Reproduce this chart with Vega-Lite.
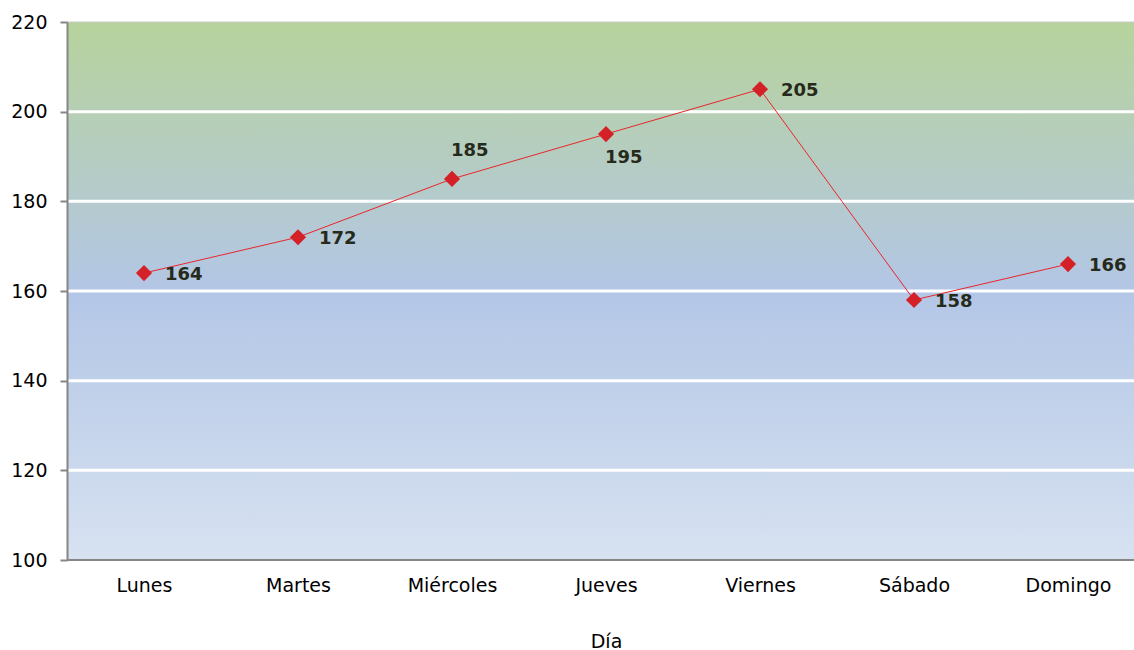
{
  "$schema": "https://vega.github.io/schema/vega-lite/v6.json",
  "autosize": {"type": "none"},
  "padding": {"left": 67, "top": 22, "right": 0, "bottom": 90},
  "width": 1067,
  "height": 538,
  "background": "white",
  "config": {
    "view": {"stroke": null},
    "font": "DejaVu Sans",
    "axis": {"labelFont": "DejaVu Sans", "titleFont": "DejaVu Sans", "labelColor": "#000000", "titleColor": "#000000", "labelFontSize": 19, "titleFontSize": 19, "titleFontWeight": "normal"}
  },
  "data": {
    "values": [
      {"dia": "Lunes", "valor": 164},
      {"dia": "Martes", "valor": 172},
      {"dia": "Miércoles", "valor": 185},
      {"dia": "Jueves", "valor": 195},
      {"dia": "Viernes", "valor": 205},
      {"dia": "Sábado", "valor": 158},
      {"dia": "Domingo", "valor": 166}
    ]
  },
  "encoding": {
    "x": {
      "field": "dia", "type": "ordinal", "sort": null,
      "scale": {"type": "point", "padding": 0, "range": [77, 1001]},
      "title": "Día",
      "axis": {"labelAngle": 0, "ticks": false, "domain": false, "labelPadding": 16, "titlePadding": 37, "grid": false, "zindex": 1}
    },
    "y": {
      "field": "valor", "type": "quantitative",
      "scale": {"domain": [100, 220], "nice": false, "zero": false},
      "title": null,
      "axis": {"values": [100, 120, 140, 160, 180, 200, 220], "tickColor": "#868686", "tickWidth": 2, "tickSize": 7, "domainColor": "#868686", "domainWidth": 2, "grid": false, "labelPadding": 13, "zindex": 1}
    }
  },
  "layer": [
    {
      "mark": {
        "type": "rect",
        "color": {
          "gradient": "linear", "x1": 0, "y1": 0, "x2": 0, "y2": 1,
          "stops": [
            {"offset": 0, "color": "#b7d39c"},
            {"offset": 0.5, "color": "#b3c6e6"},
            {"offset": 1, "color": "#d7e2f1"}
          ]
        }
      },
      "encoding": {
        "x": null,
        "y": {"datum": 100, "type": "quantitative"},
        "y2": {"datum": 220}
      }
    },
    {
      "mark": {"type": "rule", "color": "#ffffff", "strokeWidth": 3},
      "data": {"values": [{"g": 120}, {"g": 140}, {"g": 160}, {"g": 180}, {"g": 200}]},
      "encoding": {"x": null, "y": {"field": "g", "type": "quantitative"}}
    },
    {
      "mark": {"type": "rule", "color": "#c8c8c8", "strokeWidth": 1},
      "data": {"values": [{"g": 220}]},
      "encoding": {"x": null, "y": {"field": "g", "type": "quantitative"}}
    },
    {
      "mark": {"type": "rule", "color": "#868686", "strokeWidth": 2},
      "data": {"values": [{"g": 100}]},
      "encoding": {"x": null, "y": {"field": "g", "type": "quantitative"}}
    },
    {
      "mark": {"type": "line", "color": "#e8262a", "strokeWidth": 1}
    },
    {
      "mark": {"type": "point", "shape": "diamond", "filled": true, "color": "#d42027", "size": 260, "opacity": 1}
    },
    {
      "transform": [{"filter": "datum.dia !== 'Miércoles' && datum.dia !== 'Jueves'"}],
      "mark": {"type": "text", "align": "left", "baseline": "middle", "dx": 21, "dy": 2, "fontSize": 18, "fontWeight": "bold", "color": "#262a1a"},
      "encoding": {"text": {"field": "valor"}}
    },
    {
      "transform": [{"filter": "datum.dia === 'Miércoles'"}],
      "mark": {"type": "text", "align": "left", "baseline": "middle", "dx": -1, "dy": -28, "fontSize": 18, "fontWeight": "bold", "color": "#262a1a"},
      "encoding": {"text": {"field": "valor"}}
    },
    {
      "transform": [{"filter": "datum.dia === 'Jueves'"}],
      "mark": {"type": "text", "align": "left", "baseline": "middle", "dx": -1, "dy": 24, "fontSize": 18, "fontWeight": "bold", "color": "#262a1a"},
      "encoding": {"text": {"field": "valor"}}
    }
  ]
}
